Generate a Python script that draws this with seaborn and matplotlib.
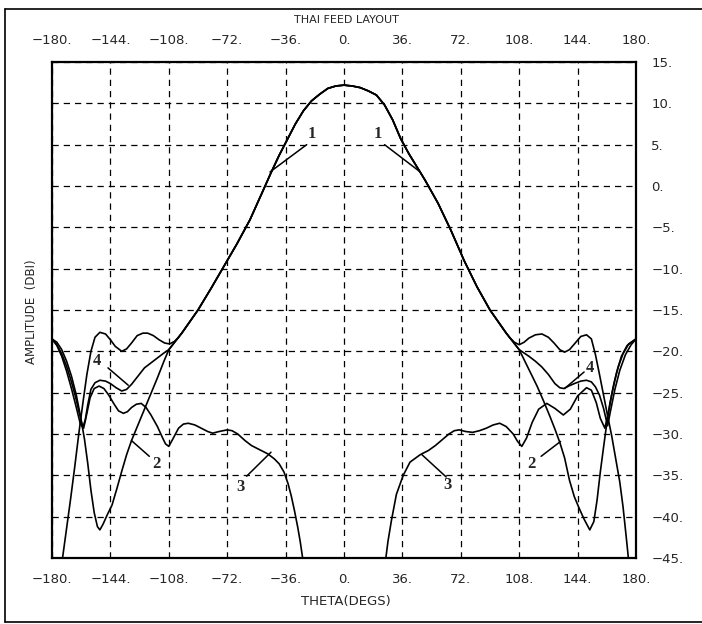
import numpy as np
import matplotlib
matplotlib.use('Agg')
import matplotlib.pyplot as plt
import seaborn as sns
from matplotlib.lines import Line2D

# Axis ticks and labels
x_ticks = [-180, -144, -108, -72, -36, 0, 36, 72, 108, 144, 180]
x_tick_labels = ['\u2212180.', '\u2212144.', '\u2212108.', '\u221272.', '\u221236.', '0.',
                 '36.', '72.', '108.', '144.', '180.']
y_ticks = [15, 10, 5, 0, -5, -10, -15, -20, -25, -30, -35, -40, -45]
y_tick_labels = ['15.', '10.', '5.', '0.', '\u22125.', '\u221210.', '\u221215.', '\u221220.',
                 '\u221225.', '\u221230.', '\u221235.', '\u221240.', '\u221245.']

# Main beam (shared by curves 1, 2 and 4)
main_theta = [-100, -90, -82, -74, -66, -58, -50, -45, -40, -35, -30, -25, -20, -15, -10, -5,
              0, 5, 10, 15, 20, 25, 30, 35, 40, 45, 50, 58, 66, 74, 82, 90, 100]
main_db = [-17.8, -15.0, -12.4, -9.7, -7.0, -4.1, -0.6, 1.6, 3.7, 5.6, 7.5, 9.1, 10.3, 11.1, 11.8, 12.1,
           12.2, 12.1, 11.9, 11.5, 11.0, 9.8, 8.0, 5.7, 3.9, 2.3, 0.7, -2.1, -5.4, -9.0, -12.2, -15.0, -17.8]

# Curve 1 sidelobes
c1_left_theta = [-174.5, -173.5, -171, -168.5, -166, -163.5, -161, -158.5, -156, -153.5, -150.5,
                 -147, -144, -141, -137, -134, -131, -127.5, -124, -121, -117.5, -114, -110.5,
                 -107.5, -104.5, -102]
c1_left_db = [-50, -45, -41.4, -37.8, -34.0, -30.0, -26.3, -22.8, -20.0, -18.3, -17.7,
              -17.9, -18.6, -19.4, -20.0, -19.7, -19.0, -18.1, -17.8, -17.8, -18.1, -18.6, -19.0,
              -19.1, -18.8, -18.3]
c1_right_theta = [102, 105, 108, 111, 114, 118, 122, 126, 129.5, 133, 136, 139, 142.5, 146, 149.5,
                  152.5, 155, 157.5, 160, 162.5, 165, 167.5, 170, 172, 174, 175.3, 176]
c1_right_db = [-18.3, -18.9, -19.2, -18.9, -18.4, -18.0, -17.9, -18.3, -19.0, -19.8, -20.1, -19.8,
               -19.0, -18.2, -18.0, -18.5, -20.4, -22.8, -25.3, -27.8, -30.2, -33.0, -35.8, -38.8,
               -42.5, -45, -50]

# Curve 2 sidelobes
c2_left_theta = [-180, -177, -174, -171, -168, -165, -162.5, -160, -158, -156, -154, -152, -150.5,
                 -148.5, -146, -143, -140, -137, -134, -131, -127, -123, -119, -115, -111, -108]
c2_left_db = [-18.5, -18.9, -19.8, -21.2, -23.0, -25.3, -27.8, -30.6, -33.5, -36.8, -39.5, -41.2,
              -41.6, -40.9, -39.8, -38.6, -36.6, -34.5, -32.5, -30.8, -28.9, -27.0, -25.1, -23.2,
              -21.2, -19.8]
c2_right_theta = [108, 111, 115, 119, 123, 127, 130, 133, 136, 139, 142, 145, 148, 151.5, 154, 156,
                  158, 160, 162, 164, 166.5, 169, 172, 175.5, 180]
c2_right_db = [-19.8, -21.0, -22.6, -24.2, -26.0, -27.9, -29.4, -31.0, -32.9, -35.6, -37.6, -39.0,
               -40.3, -41.6, -40.6, -38.0, -34.6, -31.6, -28.7, -26.2, -23.8, -21.9, -20.3, -19.1,
               -18.5]

# Curve 3 (no main beam)
c3_left_theta = [-180, -177, -174, -171, -168, -165, -162.5, -160.5, -158.5, -156.5, -154, -151,
                 -148, -145, -142, -139, -136, -133.5, -131, -128, -125, -122, -119, -115, -112,
                 -110, -108, -105.5, -102, -99, -96, -92, -88, -84, -81, -77, -72, -69, -65.5,
                 -61, -57, -52, -47, -43, -40, -37, -34.5, -32.5, -30.5, -28.5, -27, -25.5, -24.5]
c3_left_db = [-18.5, -19.3, -20.6, -22.4, -24.5, -26.8, -28.8, -29.3, -27.5, -25.6, -24.5, -24.2,
              -24.5, -25.3, -26.3, -27.2, -27.5, -27.3, -26.8, -26.4, -26.3, -26.8, -27.7, -29.1,
              -30.4, -31.2, -31.5, -30.6, -29.3, -28.8, -28.7, -28.9, -29.3, -29.7, -29.9, -29.7,
              -29.5, -29.6, -30.0, -30.8, -31.4, -31.9, -32.4, -33.0, -33.6, -34.6, -36.0, -37.5,
              -39.3, -41.3, -43.0, -45, -48]
c3_right_theta = [24.5, 25.8, 27.1, 29.2, 32.3, 36.5, 40.7, 47, 52, 56.3, 60.5, 64.7, 68, 71, 75,
                  79.3, 83.5, 87.7, 92, 96, 100, 104.3, 107, 109.6, 112.5, 116, 120, 125, 130,
                  135.2, 139.5, 144, 149.5, 152.5, 155.5, 158, 160.8, 163, 165.5, 168, 171, 174.5,
                  180]
c3_right_db = [-48, -45, -43.0, -40.5, -37.3, -35.0, -33.4, -32.5, -32.0, -31.4, -30.7, -30.0,
               -29.6, -29.5, -29.7, -29.8, -29.6, -29.3, -28.9, -28.7, -29.1, -30.0, -30.9, -31.5,
               -30.5, -28.6, -27.0, -26.3, -26.9, -27.7, -27.0, -25.4, -24.4, -24.7, -26.2, -28.1,
               -29.3, -27.4, -24.8, -22.6, -20.6, -19.3, -18.5]

# Curve 4 sidelobes
c4_left_theta = [-180, -177, -174, -171, -168, -165.5, -163, -161, -159.5, -158, -156, -153.5,
                 -150.5, -147, -144, -140.5, -137, -134, -131, -127, -123, -119, -115, -111, -108]
c4_left_db = [-18.5, -19.2, -20.3, -21.8, -23.7, -25.5, -27.6, -29.2, -28.3, -26.5, -24.6, -23.8,
              -23.5, -23.6, -23.9, -24.4, -24.8, -24.6, -24.0, -23.0, -22.0, -21.4, -20.8, -20.2,
              -19.8]
c4_right_theta = [108, 111, 114, 118, 122, 126, 130, 133, 135.5, 138.5, 142, 146, 149.5, 152.5,
                  155, 157.5, 160, 162.5, 164.5, 167, 170, 173.5, 177, 180]
c4_right_db = [-19.8, -20.2, -20.6, -21.2, -21.9, -22.8, -23.9, -24.4, -24.5, -24.2, -23.9, -23.6,
               -23.5, -23.7, -24.3, -25.3, -26.9, -29.0, -27.0, -24.6, -22.3, -20.4, -19.2, -18.5]

# Curve number labels: (text, text x, text y, leader start, leader end)
curve_labels = [
    ('1', -20, 6.3, (-23, 5.0), (-45.6, 1.7)),
    ('1', 21, 6.3, (25, 5.0), (47, 1.7)),
    ('4', -152.5, -21.2, (-145.5, -22.0), (-133, -24.1)),
    ('4', 151.5, -22.0, (148, -22.5), (136, -24.5)),
    ('2', -115.5, -33.6, (-120, -32.7), (-131, -30.8)),
    ('2', 115.5, -33.6, (121.5, -32.7), (133.5, -30.9)),
    ('3', -64, -36.4, (-60, -35.1), (-45, -32.2)),
    ('3', 64, -36.2, (63, -35.2), (48, -32.5)),
]

sns.set_style('white')
plt.rcParams['font.family'] = ['DejaVu Sans']

fig = plt.figure(figsize=(7.02, 6.24), dpi=100)
ax = fig.add_axes([52 / 702, 1 - 558 / 624, 584 / 702, 496 / 624])

curves = [
    (c1_left_theta + main_theta + c1_right_theta, c1_left_db + main_db + c1_right_db),
    (c2_left_theta + main_theta + c2_right_theta, c2_left_db + main_db + c2_right_db),
    (c3_left_theta, c3_left_db),
    (c3_right_theta, c3_right_db),
    (c4_left_theta + main_theta + c4_right_theta, c4_left_db + main_db + c4_right_db),
]
for th, db in curves:
    sns.lineplot(x=th, y=db, ax=ax, color='black', linewidth=1.2, sort=False, estimator=None)

for txt, tx, ty, p0, p1 in curve_labels:
    ax.plot([p0[0], p1[0]], [p0[1], p1[1]], color='black', linewidth=1.1)
    ax.text(tx, ty, txt, ha='center', va='center', fontsize=12, fontweight='bold',
            family='Liberation Serif')

ax.set_xlim(-180, 180)
ax.set_ylim(-45, 15)
ax.set_xticks(x_ticks)
ax.set_xticklabels(x_tick_labels)
ax.set_yticks(y_ticks)
ax.set_yticklabels(y_tick_labels)
ax.tick_params(axis='x', top=True, labeltop=True, bottom=True, labelbottom=True,
               length=0, labelsize=9.5, pad=11)
ax.tick_params(axis='y', left=False, labelleft=False, right=True, labelright=True,
               length=0, labelsize=9.5, pad=11)
for lab in ax.get_yticklabels():
    lab.set_verticalalignment('center_baseline')
ax.grid(True, color='black', linestyle=(0, (5, 4)), linewidth=0.9)
for sp in ax.spines.values():
    sp.set_color('black')
    sp.set_linewidth(1.6)

fig.text(346 / 702, 1 - 20 / 624, 'THAI FEED LAYOUT', ha='center', va='center', fontsize=8)
fig.text(346 / 702, 1 - 602 / 624, 'THETA(DEGS)', ha='center', va='center', fontsize=9.5)
fig.text(31 / 702, 1 - 312 / 624, 'AMPLITUDE  (DBI)', ha='center', va='center',
         rotation=90, fontsize=8.5)

# outer frame
for xs, ys in [([5, 5], [9, 622]), ([5, 702], [9, 9]), ([5, 702], [622, 622])]:
    fig.add_artist(Line2D([x / 702 for x in xs], [1 - y / 624 for y in ys],
                          color='black', linewidth=1.2))

fig.savefig('out.png', dpi=100)
